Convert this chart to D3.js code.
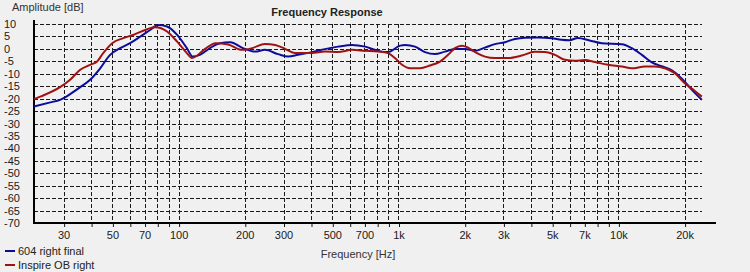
<!DOCTYPE html>
<html>
<head>
<meta charset="utf-8">
<script src="https://cdn.jsdelivr.net/npm/d3@7"></script>
<style>
  body { margin: 0; background: #f0f0f0; }
  svg { display: block; font-family: "Liberation Sans", Arial, sans-serif; }
</style>
</head>
<body>
<div id="chart"></div>
<script>
// frequency [Hz] / amplitude [dB]
var blueFreq = [22, 26.1, 28.9, 32.1, 35.7, 39.6, 44, 48.8, 54.2, 60.2, 66.9, 74.2, 80.7, 88.6, 98.5, 109, 116, 125, 139, 154, 172, 194, 223, 247, 283, 315, 349, 404, 463, 531, 615, 705, 808, 896, 1017, 1071, 1189, 1319, 1464, 1626, 1805, 2005, 2226, 2472, 2745, 3048, 3385, 3758, 4305, 4984, 5500, 6000, 6545, 7400, 8400, 10370, 11510, 12790, 14200, 15770, 17510, 19440, 21590, 23970];
var blueDb   = [-23.2, -21.5, -20.5, -18.2, -15.4, -12.4, -7.8, -2.4, 0.3, 2.3, 4.9, 7.6, 9.6, 9.0, 5.6, 0.3, -3.1, -2.4, 0.3, 2.3, 2.7, 0.5, -1.1, -0.4, -2.1, -3.1, -2.4, -1.3, -0.1, 0.9, 1.6, 0.9, -0.8, -1.3, 1.3, 1.6, 0.9, -1.3, -2.1, -1.1, 0, 0, -0.8, 0.5, 1.9, 2.7, 4.0, 4.5, 4.6, 4.3, 3.7, 3.5, 4.4, 3.4, 2.3, 1.9, 0.3, -2.4, -5.4, -7.0, -8.6, -12.0, -16.5, -20.5];

var redFreq = [22, 23.5, 28.9, 32.1, 35.7, 39.6, 42.6, 45.4, 49.9, 56, 62.1, 71.9, 78.2, 88.6, 98.5, 109, 115, 132, 147, 168, 194, 216, 247, 275, 305, 339, 404, 463, 531, 615, 705, 808, 896, 964, 1038, 1128, 1252, 1390, 1545, 1680, 1805, 1944, 2071, 2274, 2472, 2745, 3148, 3637, 4168, 4630, 5140, 5712, 6340, 7040, 7820, 8960, 10370, 11510, 13190, 14650, 16260, 18060, 20050, 22270, 23970];
var redDb   = [-20.2, -19.2, -15.4, -12.4, -8.4, -6.4, -5.1, -1.7, 2.3, 4.3, 5.6, 7.9, 8.7, 7.0, 2.9, -1.7, -3.7, 0, 2.3, 1.8, -0.4, 0.3, 2.0, 1.6, 0, -1.7, -1.7, -1.1, -1.3, -0.4, -0.8, -1.1, -1.7, -3.7, -6.4, -7.8, -7.8, -6.7, -5.1, -2.4, 0.3, 1.3, 0.5, -1.7, -3.1, -3.7, -3.7, -2.7, -1.2, -1.3, -2.4, -4.4, -4.8, -4.5, -5.3, -6.4, -7.1, -7.8, -7.1, -7.1, -7.8, -9.8, -13.8, -16.9, -19.2];

var gridFreqs = [30, 40, 50, 60, 70, 80, 90, 100, 200, 300, 400, 500, 600, 700, 800, 900, 1000, 2000, 3000, 4000, 5000, 6000, 7000, 8000, 9000, 10000, 20000];
var freqLabels = {30: '30', 50: '50', 70: '70', 100: '100', 200: '200', 300: '300', 500: '500', 700: '700',
                  1000: '1k', 2000: '2k', 3000: '3k', 5000: '5k', 7000: '7k', 10000: '10k', 20000: '20k'};
var dbTicks = d3.range(10, -75, -5);

var series = [
    {name: '604 right final', color: '#0c0c9a', freq: blueFreq, db: blueDb},
    {name: 'Inspire OB right', color: '#9e1212', freq: redFreq, db: redDb}
];

var width = 750, height = 272,
    plotLeft = 34, plotRight = 702, plotTop = 24, plotBottom = 223;

var svg = d3.select('#chart').append('svg')
    .attr('width', width)
    .attr('height', height);

svg.append('rect').attr('width', width).attr('height', height).attr('fill', '#f0f0f0');

var x = d3.scaleLog().domain([22, 24000]).range([plotLeft, plotRight]);
var y = d3.scaleLinear().domain([-70, 10]).range([plotBottom, plotTop]);

// grid
svg.append('g').selectAll('line')
    .data(dbTicks.filter(function (d) { return d > -70; }))
    .enter().append('line')
    .attr('x1', plotLeft).attr('x2', plotRight)
    .attr('y1', function (d) { return Math.round(y(d)) + 0.5; })
    .attr('y2', function (d) { return Math.round(y(d)) + 0.5; })
    .attr('stroke', '#1a1a1a').attr('stroke-width', 1).attr('stroke-dasharray', '4,2');

svg.append('g').selectAll('line')
    .data(gridFreqs)
    .enter().append('line')
    .attr('x1', function (d) { return Math.round(x(d)) + 0.5; })
    .attr('x2', function (d) { return Math.round(x(d)) + 0.5; })
    .attr('y1', plotTop).attr('y2', plotBottom)
    .attr('stroke', '#1a1a1a').attr('stroke-width', 1).attr('stroke-dasharray', '4,2');

// x axis
var xAxis = d3.axisBottom(x)
    .tickValues(gridFreqs)
    .tickSize(6)
    .tickPadding(2)
    .tickFormat(function (d) { return freqLabels[d] || ''; });

var gx = svg.append('g')
    .attr('transform', 'translate(0,' + plotBottom + ')')
    .call(xAxis);
gx.select('.domain').remove();
gx.selectAll('.tick line').attr('stroke', '#1a1a1a').attr('stroke-dasharray', '4,2')
    .attr('transform', 'translate(0.5,0)');
gx.selectAll('.tick text').attr('font-size', 11).attr('fill', '#1a1a1a')
    .attr('font-family', '"Liberation Sans", Arial, sans-serif');

// y axis labels, left aligned
var yAxis = d3.axisLeft(y).tickValues(dbTicks).tickSize(0).tickFormat(d3.format('d'));
var gy = svg.append('g').attr('transform', 'translate(' + plotLeft + ',0)').call(yAxis);
gy.select('.domain').remove();
gy.selectAll('.tick text')
    .attr('text-anchor', 'start')
    .attr('x', -30)
    .attr('font-size', 11)
    .attr('fill', '#1a1a1a')
    .attr('font-family', '"Liberation Sans", Arial, sans-serif')
    .text(function (d) { return d < 0 ? '-' + Math.abs(d) : d; });

// frame lines
svg.append('line').attr('x1', plotLeft).attr('x2', plotLeft).attr('y1', 20).attr('y2', plotBottom + 1)
    .attr('stroke', '#000').attr('stroke-width', 2);
svg.append('line').attr('x1', plotLeft).attr('x2', 716).attr('y1', plotBottom).attr('y2', plotBottom)
    .attr('stroke', '#000').attr('stroke-width', 2);

// curves
var line = d3.line()
    .x(function (d) { return x(d[0]); })
    .y(function (d) { return y(d[1]); })
    .curve(d3.curveMonotoneX);

series.forEach(function (s) {
    var pts = s.freq.map(function (f, i) { return [f, s.db[i]]; });
    svg.append('path')
        .datum(pts)
        .attr('fill', 'none')
        .attr('stroke', s.color)
        .attr('stroke-width', 2)
        .attr('stroke-linejoin', 'round')
        .attr('d', line);
});

// texts
svg.append('text').attr('x', 12).attr('y', 11).attr('font-size', 11).attr('fill', '#333')
    .text('Amplitude [dB]');
svg.append('text').attr('x', 327).attr('y', 16).attr('text-anchor', 'middle')
    .attr('font-size', 11).attr('font-weight', 'bold').attr('fill', '#222')
    .text('Frequency Response');
svg.append('text').attr('x', 358).attr('y', 258).attr('text-anchor', 'middle')
    .attr('font-size', 11).attr('fill', '#333')
    .text('Frequency [Hz]');

// legend
series.forEach(function (s, i) {
    var ly = 251 + i * 14;
    svg.append('line').attr('x1', 5).attr('x2', 15).attr('y1', ly).attr('y2', ly)
        .attr('stroke', s.color).attr('stroke-width', 2);
    svg.append('text').attr('x', 18).attr('y', ly + 4).attr('font-size', 11).attr('fill', '#222')
        .text(s.name);
});
</script>
</body>
</html>
